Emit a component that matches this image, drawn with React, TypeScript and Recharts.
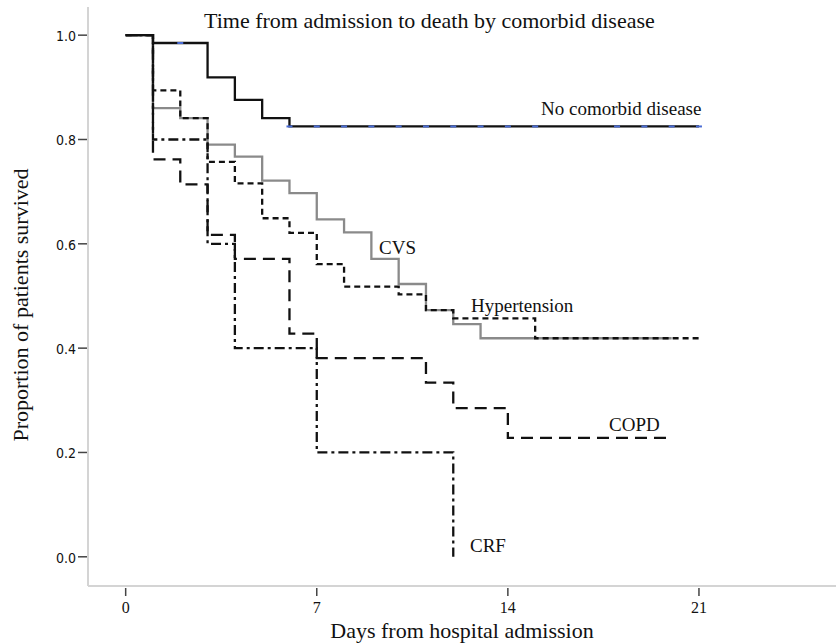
import React from 'react';
import { ComposedChart, Line, Scatter, XAxis, YAxis } from 'recharts';

// Kaplan-Meier steps (day of drop, proportion surviving)
const noneDays = [0, 1, 3, 4, 5, 6, 21];
const noneSurv = [1, 0.985, 0.919, 0.876, 0.841, 0.825, 0.825];
const noneCensorDays = [2, 6, 7, 8, 9, 10, 11, 12, 13, 14, 15, 18, 19, 20, 21];

const cvsDays = [0, 1, 2, 3, 4, 5, 6, 7, 8, 9, 10, 11, 12, 13, 20];
const cvsSurv = [1, 0.86, 0.841, 0.79, 0.767, 0.721, 0.697, 0.647, 0.622, 0.571, 0.523, 0.473, 0.446, 0.419, 0.419];

const htnDays = [0, 1, 2, 3, 4, 5, 6, 7, 8, 10, 11, 12, 15, 21];
const htnSurv = [1, 0.894, 0.841, 0.757, 0.716, 0.649, 0.621, 0.561, 0.518, 0.503, 0.473, 0.457, 0.419, 0.419];

const copdDays = [0, 1, 2, 3, 4, 6, 7, 11, 12, 14, 20];
const copdSurv = [1, 0.762, 0.714, 0.617, 0.571, 0.428, 0.381, 0.334, 0.285, 0.228, 0.228];

const crfDays = [0, 1, 3, 4, 7, 12];
const crfSurv = [1, 0.8, 0.6, 0.4, 0.2, 0];

const xTicks = [0, 7, 14, 21];
const yTicks = [0, 0.2, 0.4, 0.6, 0.8, 1.0];

const toPoints = (days: number[], surv: number[]) => days.map((d, i) => ({ day: d, s: surv[i] }));

const noneData = toPoints(noneDays, noneSurv);
const cvsData = toPoints(cvsDays, cvsSurv);
const htnData = toPoints(htnDays, htnSurv);
const copdData = toPoints(copdDays, copdSurv);
const crfData = toPoints(crfDays, crfSurv);
const noneCensor = noneCensorDays.map((d) => {
    let s = 1;
    noneDays.forEach((t, i) => { if (t <= d) s = noneSurv[i]; });
    return { day: d, s };
});

const serif = "'Liberation Serif', 'Times New Roman', serif";
const narrow = "'DejaVu Sans Condensed', 'DejaVu Sans', sans-serif";

const XTick = (props: any) => {
    const { x, y, payload } = props;
    return (
        <g>
            <line x1={x} x2={x} y1={y + 2} y2={y + 10} stroke="#444" strokeWidth={1.5} />
            <text x={x} y={y + 27} textAnchor="middle" fontFamily={serif} fontSize={16} fill="#111">
                {payload.value}
            </text>
        </g>
    );
};

const YTick = (props: any) => {
    const { x, y, payload } = props;
    return (
        <g>
            <line x1={x - 10} x2={x - 1} y1={y} y2={y} stroke="#444" strokeWidth={1.5} />
            <text x={x - 12} y={y + 6} textAnchor="end" fontFamily={narrow} fontSize={14}
                style={{ fontStretch: 'condensed' }} fill="#111">
                {Number(payload.value).toFixed(1)}
            </text>
        </g>
    );
};

const CensorMark = (props: any) => {
    const { cx, cy } = props;
    return <line x1={cx - 3} x2={cx + 3} y1={cy} y2={cy} stroke="#4a6cd4" strokeWidth={2} />;
};

export default function App() {
    return (
        <div style={{ position: 'absolute', left: 0, top: 0, width: 836, height: 644, background: '#fff' }}>
            <ComposedChart width={836} height={644} margin={{ top: 7, right: 0, left: 0, bottom: 0 }}>
                <XAxis
                    type="number"
                    dataKey="day"
                    domain={[-1.38, 26.02]}
                    ticks={xTicks}
                    allowDataOverflow
                    height={58}
                    tickSize={0}
                    tickMargin={0}
                    tickLine={false}
                    axisLine={{ stroke: '#d4d4d4', strokeWidth: 2 }}
                    tick={<XTick />}
                />
                <YAxis
                    type="number"
                    dataKey="s"
                    domain={[-0.056, 1.054]}
                    ticks={yTicks}
                    allowDataOverflow
                    width={88}
                    tickSize={0}
                    tickMargin={0}
                    tickLine={false}
                    axisLine={{ stroke: '#d4d4d4', strokeWidth: 2 }}
                    tick={<YTick />}
                />
                <Line data={cvsData} dataKey="s" type="stepAfter" stroke="#8a8a8a" strokeWidth={2.3}
                    dot={false} activeDot={false} isAnimationActive={false} />
                <Line data={htnData} dataKey="s" type="stepAfter" stroke="#111" strokeWidth={2.3}
                    strokeDasharray="6 4" dot={false} activeDot={false} isAnimationActive={false} />
                <Line data={copdData} dataKey="s" type="stepAfter" stroke="#111" strokeWidth={2.3}
                    strokeDasharray="12 7" dot={false} activeDot={false} isAnimationActive={false} />
                <Line data={crfData} dataKey="s" type="stepAfter" stroke="#111" strokeWidth={2.3}
                    strokeDasharray="10 4 3 4" dot={false} activeDot={false} isAnimationActive={false} />
                <Line data={noneData} dataKey="s" type="stepAfter" stroke="#111" strokeWidth={2.3}
                    dot={false} activeDot={false} isAnimationActive={false} />
                <Scatter data={noneCensor} dataKey="s" shape={<CensorMark />} isAnimationActive={false} />
            </ComposedChart>
            <svg width={836} height={644} style={{ position: 'absolute', left: 0, top: 0, pointerEvents: 'none' }}>
                <g fontFamily={serif} fill="#111">
                    <text x={204} y={28} fontSize={22}>Time from admission to death by comorbid disease</text>
                    <text x={462} y={638} fontSize={22} textAnchor="middle">Days from hospital admission</text>
                    <text x={28} y={305} fontSize={22} textAnchor="middle" transform="rotate(-90 28 305)">
                        Proportion of patients survived
                    </text>
                    <text x={541} y={115} fontSize={19}>No comorbid disease</text>
                    <text x={379} y={254} fontSize={19}>CVS</text>
                    <text x={471} y={312} fontSize={19}>Hypertension</text>
                    <text x={609} y={431} fontSize={19}>COPD</text>
                    <text x={470} y={552} fontSize={19}>CRF</text>
                </g>
            </svg>
        </div>
    );
}
